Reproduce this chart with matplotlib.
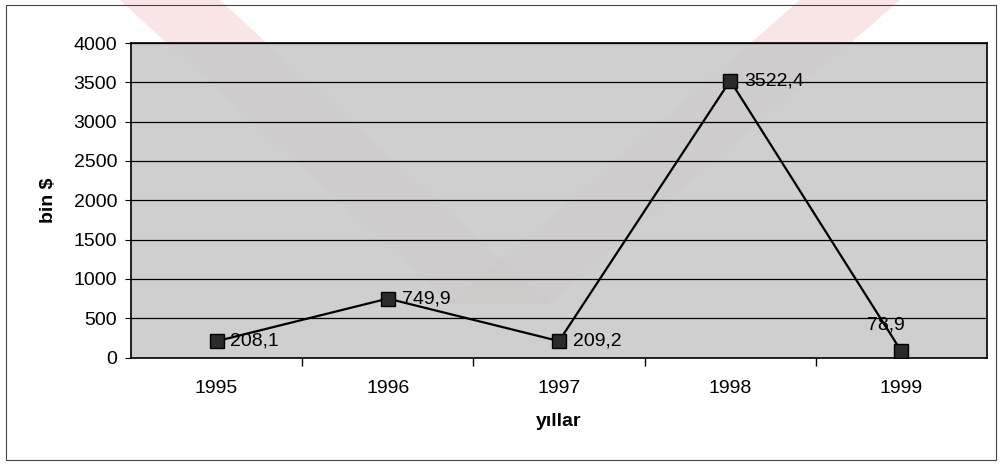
import matplotlib.pyplot as plt
from matplotlib.patches import Rectangle, Polygon

years = ["1995", "1996", "1997", "1998", "1999"]
values = [208.1, 749.9, 209.2, 3522.4, 78.9]
labels = ["208,1", "749,9", "209,2", "3522,4", "78,9"]
yticks = [0, 500, 1000, 1500, 2000, 2500, 3000, 3500, 4000]

plt.rcParams["font.family"] = ["Liberation Sans", "DejaVu Sans"]

fig = plt.figure(figsize=(10, 4.68), dpi=100)
fig.patch.set_facecolor("white")

# faint watermark chevrons, kept behind the plot area
for pts in [[(0.12, 1.0), (0.22, 1.0), (0.55, 0.35), (0.45, 0.35)],
            [(0.80, 1.0), (0.90, 1.0), (0.55, 0.35), (0.45, 0.35)]]:
    wm = Polygon(pts, closed=True, transform=fig.transFigure,
                 facecolor="#f3c4c8", edgecolor="none", alpha=0.45, zorder=-1)
    fig.add_artist(wm)

# outer chart frame
fig.add_artist(Rectangle((0.006, 0.017), 0.99, 0.972, transform=fig.transFigure,
                         fill=False, edgecolor="#444444", linewidth=0.8))

ax = fig.add_axes([0.131, 0.236, 0.856, 0.672])
ax.set_facecolor("#c9c9c9")
ax.patch.set_alpha(0.88)

x = range(len(years))
ax.plot(x, values, color="black", linewidth=1.6, marker="s", markersize=10.5,
        markerfacecolor="#2a2a2a", markeredgecolor="black", zorder=3)

for i, (v, lab) in enumerate(zip(values, labels)):
    if i == 4:
        ax.annotate(lab, (i, v), xytext=(-11, 19), textcoords="offset points",
                    fontsize=14, va="center", ha="center")
    else:
        ax.annotate(lab, (i, v), xytext=(10, 0), textcoords="offset points",
                    fontsize=14, va="center", ha="left")

ax.set_xlim(-0.5, 4.5)
ax.set_ylim(0, 4000)
ax.set_yticks(yticks)
ax.set_yticklabels([str(t) for t in yticks], fontsize=14)
ax.yaxis.grid(True, color="black", linewidth=0.9)
ax.set_axisbelow(True)

ax.set_xticks([i + 0.5 for i in range(len(years) - 1)])
ax.set_xticklabels([])
ax.set_xticks(list(x), minor=True)
ax.set_xticklabels(years, minor=True, fontsize=14)
ax.tick_params(axis="x", which="major", length=6, direction="out", width=1)
ax.tick_params(axis="x", which="minor", length=0, pad=16)
ax.tick_params(axis="y", length=4, direction="out", pad=6)

for s in ax.spines.values():
    s.set_linewidth(1.2)
    s.set_color("black")

ax.set_ylabel("bin $", fontsize=14, fontweight="bold", labelpad=12)
ax.set_xlabel("yıllar", fontsize=14, fontweight="bold", labelpad=12)

fig.savefig("out.png", dpi=100)
